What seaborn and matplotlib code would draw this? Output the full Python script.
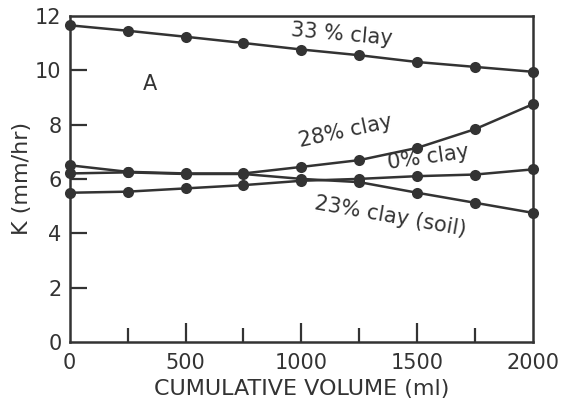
import pandas as pd
import matplotlib.pyplot as plt
import seaborn as sns

# cumulative volume (ml) and hydraulic conductivity K (mm/hr)
volume = [0, 250, 500, 750, 1000, 1250, 1500, 1750, 2000]
clay33 = [11.65, 11.45, 11.23, 11.0, 10.76, 10.55, 10.3, 10.12, 9.94]
clay28 = [6.5, 6.26, 6.2, 6.2, 6.44, 6.69, 7.14, 7.83, 8.75]
clay0 = [5.49, 5.53, 5.65, 5.77, 5.93, 6.0, 6.1, 6.16, 6.35]
clay23 = [6.2, 6.24, 6.18, 6.18, 6.0, 5.88, 5.49, 5.12, 4.75]
series_names = ['33 % clay', '28% clay', '0% clay', '23% clay (soil)']

df = pd.DataFrame({'volume': volume * 4,
                   'K': clay33 + clay28 + clay0 + clay23,
                   'series': sum([[n] * len(volume) for n in series_names], [])})

sns.set_theme(style="white")
plt.rcParams['font.family'] = ['DejaVu Sans']
ink = '#333333'

fig = plt.figure(figsize=(5.67, 4.16), dpi=100)
ax = fig.add_axes([0.123, 0.178, 0.817, 0.784])

sns.lineplot(data=df, x='volume', y='K', units='series', estimator=None,
             color=ink, marker='o', markersize=8, markeredgewidth=0,
             linewidth=1.8, ax=ax, legend=False, clip_on=False, zorder=3)

ax.set_xlim(0, 2000)
ax.set_ylim(0, 12)
for s in ax.spines.values():
    s.set_color(ink)
    s.set_linewidth(1.8)

ax.set_xticks([0, 500, 1000, 1500, 2000])
ax.set_xticks([250, 750, 1250, 1750], minor=True)
ax.set_yticks([0, 2, 4, 6, 8, 10, 12])
ax.tick_params(axis='x', which='major', direction='in', length=14, width=1.6,
               color=ink, labelcolor=ink, labelsize=15, pad=8, bottom=True)
ax.tick_params(axis='x', which='minor', direction='in', length=10, width=1.6,
               color=ink, bottom=True)
ax.tick_params(axis='y', direction='in', length=12, width=1.6, color=ink,
               labelcolor=ink, labelsize=15, pad=6, left=True)
# no visible tick marks at the corners
for t in (ax.yaxis.get_major_ticks()[0], ax.yaxis.get_major_ticks()[-1]):
    t.tick1line.set_visible(False)
for t in (ax.xaxis.get_major_ticks()[0], ax.xaxis.get_major_ticks()[-1]):
    t.tick1line.set_visible(False)

ax.set_xlabel('CUMULATIVE VOLUME (ml)', fontsize=16, color=ink, labelpad=4)
ax.set_ylabel('K (mm/hr)', fontsize=16, color=ink, labelpad=2)

# curve labels
lab = dict(fontsize=15, color=ink, ha='center', va='center')
ax.text(1175, 11.3, '33 % clay', rotation=-5, **lab)
ax.text(345, 9.5, 'A', **lab)
ax.text(1190, 7.75, '28% clay', rotation=12, **lab)
ax.text(1550, 6.8, '0% clay', rotation=8, **lab)
ax.text(1385, 4.6, '23% clay (soil)', rotation=-10, **lab)

fig.savefig('out.png', dpi=100)
